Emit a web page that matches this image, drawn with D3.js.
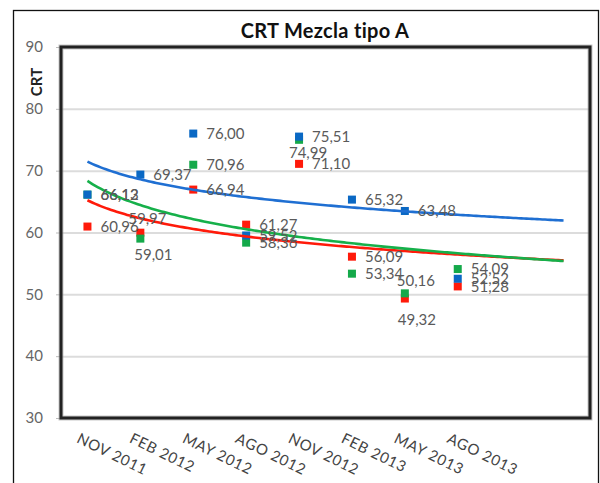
<!DOCTYPE html>
<html>
<head>
<meta charset="utf-8">
<script src="https://cdn.jsdelivr.net/npm/d3@7"></script>
<style>
  body { margin: 0; background: #fff; }
  svg { display: block; font-family: Lato, "Open Sans", sans-serif; }
</style>
</head>
<body>
<div id="chart"></div>
<script>
// chart data
const categories = ["NOV 2011", "FEB 2012", "MAY 2012", "AGO 2012", "NOV 2012", "FEB 2013", "MAY 2013", "AGO 2013"];
const seriesBlue = [66.13, 69.37, 76.00, 59.52, 75.51, 65.32, 63.48, 52.52];
const seriesRed = [60.96, 59.97, 66.94, 61.27, 71.10, 56.09, 49.32, 51.28];
const seriesGreen = [66.12, 59.01, 70.96, 58.36, 74.99, 53.34, 50.16, 54.09];
const yTicks = [30, 40, 50, 60, 70, 80, 90];
const trendPeriods = 10; // log trendline forecast 2 periods forward

const width = 600,
  height = 483;
const plot = { left: 61, right: 590, top: 47, bottom: 418 };

const series = [
  { name: "red", values: seriesRed, color: "#ff1a0a", trend: "#ff1a0a" },
  { name: "green", values: seriesGreen, color: "#14a94a", trend: "#16b04a" },
  { name: "blue", values: seriesBlue, color: "#0a68c4", trend: "#1f6fd2" },
];

// label placement tweaks where excel moved overlapping labels
const labelPlacement = {
  "red-1": { dx: 7, dy: -14, anchor: "middle" },
  "green-1": { dx: 13, dy: 16, anchor: "middle" },
  "green-4": { dx: 9, dy: 13, anchor: "middle" },
  "green-6": { dx: 11, dy: -13, anchor: "middle" },
  "red-6": { dx: 12, dy: 21, anchor: "middle" },
};

const svg = d3
  .select("#chart")
  .append("svg")
  .attr("width", width)
  .attr("height", height);

const x = d3.scaleLinear().domain([0.5, trendPeriods + 0.5]).range([plot.left, plot.right]);
const y = d3.scaleLinear().domain([30, 90]).range([plot.bottom, plot.top]);

// outer frame
svg
  .append("rect")
  .attr("x", 13.5)
  .attr("y", 10.5)
  .attr("width", 585)
  .attr("height", 500)
  .style("fill", "none")
  .style("stroke", "#111")
  .style("stroke-width", 1.3);

// title
svg
  .append("text")
  .attr("x", 325)
  .attr("y", 38)
  .attr("text-anchor", "middle")
  .style("font-size", "20px")
  .style("font-weight", "bold")
  .style("letter-spacing", "0.3px")
  .style("fill", "#111")
  .text("CRT Mezcla tipo A");

// y axis title
svg
  .append("text")
  .attr("transform", `translate(${42},${82}) rotate(-90)`)
  .attr("text-anchor", "middle")
  .style("font-size", "15px")
  .style("font-weight", "bold")
  .style("fill", "#222")
  .text("CRT");

// gridlines
svg
  .append("g")
  .attr("class", "grid")
  .attr("transform", `translate(${plot.left},0)`)
  .call(
    d3
      .axisLeft(y)
      .tickValues(yTicks.filter((d) => d > 30 && d < 90))
      .tickSize(-(plot.right - plot.left))
      .tickFormat("")
  )
  .call((g) => g.select(".domain").remove())
  .call((g) => g.selectAll("line").style("stroke", "#dcdcdc").style("stroke-width", 2));

// y axis
svg
  .append("g")
  .attr("transform", `translate(${plot.left},0)`)
  .call(d3.axisLeft(y).tickValues(yTicks).tickSize(5).tickPadding(13))
  .call((g) => g.select(".domain").remove())
  .call((g) => g.selectAll("line").style("stroke", "#bbb"))
  .call((g) =>
    g
      .selectAll("text")
      .style("font-family", "Lato, sans-serif")
      .style("font-size", "15px")
      .style("fill", "#666")
  );

// x axis labels
svg
  .append("g")
  .selectAll("text")
  .data(categories)
  .join("text")
  .attr("transform", (d, i) => `translate(${x(i + 1) - 7},${432}) rotate(26)`)
  .attr("y", 11)
  .style("font-size", "15px")
  .style("letter-spacing", "0.6px")
  .style("fill", "#444")
  .text((d) => d);

// plot area border with soft shadow
svg
  .append("rect")
  .attr("x", plot.left)
  .attr("y", plot.top)
  .attr("width", plot.right - plot.left)
  .attr("height", plot.bottom - plot.top)
  .style("fill", "none")
  .style("stroke", "#999")
  .style("stroke-width", 5)
  .style("stroke-opacity", 0.55);
svg
  .append("rect")
  .attr("x", plot.left)
  .attr("y", plot.top)
  .attr("width", plot.right - plot.left)
  .attr("height", plot.bottom - plot.top)
  .style("fill", "none")
  .style("stroke", "#222")
  .style("stroke-width", 3);

// markers
const msize = 8;
series.forEach((s) => {
  svg
    .append("g")
    .selectAll("rect")
    .data(s.values)
    .join("rect")
    .attr("x", (d, i) => x(i + 1) - msize / 2)
    .attr("y", (d) => y(d) - msize / 2)
    .attr("width", msize)
    .attr("height", msize)
    .style("fill", s.color);
});

// logarithmic trendlines (least squares on ln x), like excel
const logFit = (values) => {
  const pts = values.map((v, i) => [Math.log(i + 1), v]);
  const mx = d3.mean(pts, (p) => p[0]);
  const my = d3.mean(pts, (p) => p[1]);
  const b = d3.sum(pts, (p) => (p[0] - mx) * (p[1] - my)) / d3.sum(pts, (p) => (p[0] - mx) ** 2);
  const a = my - b * mx;
  return (t) => a + b * Math.log(t);
};

const line = d3
  .line()
  .x((d) => x(d[0]))
  .y((d) => y(d[1]));

series.forEach((s) => {
  const f = logFit(s.values);
  const pts = d3.range(1, trendPeriods + 0.001, 0.05).map((t) => [t, f(t)]);
  svg
    .append("path")
    .attr("d", line(pts))
    .style("fill", "none")
    .style("stroke", s.trend)
    .style("stroke-width", 2.6);
});

// data labels
const fmt = (v) => d3.format(".2f")(v).replace(".", ",");
series.forEach((s) => {
  svg
    .append("g")
    .selectAll("text")
    .data(s.values)
    .join("text")
    .each(function (d, i) {
      const p = labelPlacement[`${s.name}-${i}`] || { dx: 13, dy: 0, anchor: "start" };
      d3.select(this)
        .attr("x", x(i + 1) + p.dx)
        .attr("y", y(d) + p.dy)
        .attr("dy", "0.35em")
        .attr("text-anchor", p.anchor);
    })
    .style("font-size", "15px")
    .style("fill", "#5a5a5a")
    .text((d) => fmt(d));
});
</script>
</body>
</html>
